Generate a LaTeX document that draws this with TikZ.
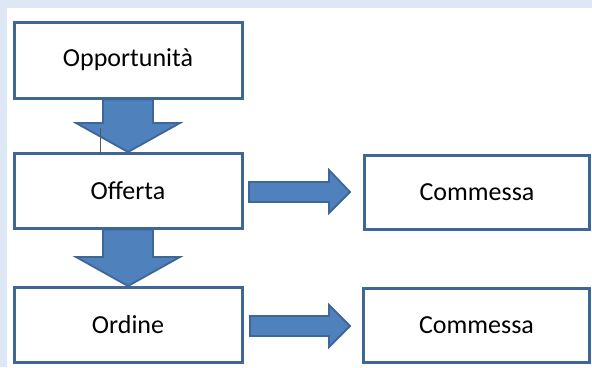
\documentclass[tikz,border=0pt]{standalone}
\usepackage{fontspec}
\setmainfont{Carlito}
\definecolor{bgblue}{HTML}{DEE8F4}
\definecolor{edgeblue}{HTML}{3E6697}
\definecolor{fillblue}{HTML}{4F81BD}
\begin{document}
\begin{tikzpicture}[x=1pt,y=-1pt,
  box/.style={draw=edgeblue, line width=3pt, fill=white, inner sep=0pt, font=\fontsize{26}{31}\selectfont},
  bigarrow/.style={draw=edgeblue, line width=1.8pt, fill=fillblue, line join=miter}]
\useasboundingbox (0,0) rectangle (592,367);
\fill[bgblue] (0,0) rectangle (592,367);
\fill[white] (7,8) rectangle (592,367);
% boxes
\node[box, minimum width=228pt, minimum height=76pt] (opp) at (128,60) {Opportunità};
\node[box, minimum width=228pt, minimum height=75pt] (off) at (128,191) {Offerta};
\node[box, minimum width=228pt, minimum height=75pt] (ord) at (128,324.5) {Ordine};
\node[box, minimum width=225pt, minimum height=74pt] (com1) at (477,192) {Commessa};
\node[box, minimum width=226pt, minimum height=74pt] (com2) at (476.5,325.5) {Commessa};
% down arrows
\draw[bigarrow] (103,99.5) -- (153,99.5) -- (153,123) -- (180,123) -- (128,152) -- (76,123) -- (103,123) -- cycle;
\draw[bigarrow] (103,229.5) -- (153,229.5) -- (153,257) -- (180,257) -- (128,286) -- (76,257) -- (103,257) -- cycle;
% right arrows
\draw[bigarrow] (249,182) -- (329,182) -- (329,170) -- (350,192) -- (329,213) -- (329,202) -- (249,202) -- cycle;
\draw[bigarrow] (250,316) -- (329,316) -- (329,305) -- (350,326) -- (329,347) -- (329,336) -- (250,336) -- cycle;
% stray thin line
\coordinate (s1) at (100,128);
\coordinate (s2) at (100,154);
\draw[gray!70!black, line width=1pt] (s1) -- (s2);
\end{tikzpicture}
\end{document}
